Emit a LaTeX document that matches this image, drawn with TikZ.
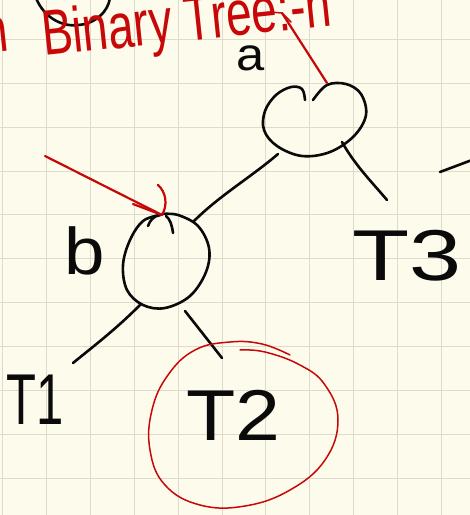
\documentclass[tikz,border=0pt]{standalone}
\usepackage{fontspec}
\setmainfont{Liberation Sans}
\definecolor{paper}{RGB}{253,251,236}
\definecolor{gridc}{RGB}{222,219,205}
\definecolor{ink}{RGB}{10,10,10}
\definecolor{redink}{RGB}{200,8,8}
\tikzset{
  pen/.style={draw=ink, line width=2.6pt, line cap=round, line join=round},
  redpen/.style={draw=redink, line width=2.2pt, line cap=round, line join=round},
  thinred/.style={draw=redink, line width=1.5pt, line cap=round, line join=round},
  lbl/.style={text=ink, inner sep=0pt, font=\fontsize{72}{72}\selectfont},
  redtxt/.style={text=redink, inner sep=0pt, anchor=base west, rotate=6, xscale=0.72, transform shape, font=\fontsize{64}{64}\selectfont},
  hidden/.style={draw=none, inner sep=0pt, minimum size=2pt}
}
\begin{document}
\begin{tikzpicture}[x=1pt, y=-1pt]
\useasboundingbox (0,0) rectangle (470,515);
\fill[paper] (0,0) rectangle (470,515);
\begin{scope}
\clip (0,0) rectangle (470,515);
% grid
\foreach \gx in {2,46,90,134,178,222,265,309,353,397,441}
  \draw[gridc, line width=1pt] (\gx,0) -- (\gx,515);
\foreach \gy in {39,83,127,171,214,258,302,346,390,434,478}
  \draw[gridc, line width=1pt] (0,\gy) -- (470,\gy);

% top partial circle
\draw[pen] (36,-2) .. controls (45,20) and (65,27) .. (78,25) .. controls (95,24) and (108,12) .. (110,-2);

% red title
\node[redtxt] (title0) at (-16,54) {n};
\node[redtxt] (title) at (44,56) {Binary Tree:-n};

% label a
\node[lbl, font=\fontsize{46}{46}\selectfont, anchor=base, xscale=1.1] (la) at (251,70) {a};

% node a outline
\node[hidden] (a) at (314,120) {};
\draw[pen] plot[smooth, tension=0.6] coordinates {(305,100) (302,89) (291,87) (276,95) (265,111) (264,130) (277,146) (302,156) (330,152) (354,136) (366,115) (361,94) (346,84) (327,85) (313,100)};

% red arrow from a to title
\coordinate (ra1) at (327,83);
\coordinate (ra2) at (282,13);
\draw[redpen] (ra1) -- (ra2);
\draw[thinred] (ra2) -- (270,12);
\draw[thinred] (ra2) -- (291,22);

% label b
\node[lbl, font=\fontsize{66}{66}\selectfont, anchor=base, xscale=1.1] (lb) at (85,274) {b};

% node b outline
\node[hidden] (b) at (166,262) {};
\draw[pen] plot[smooth, tension=0.6] coordinates {(160,215) (143,221) (130,240) (123,265) (127,290) (143,305) (165,308) (190,296) (206,272) (209,248) (198,226) (178,215) (162,214)};
\draw[pen] (148,226) .. controls (150,220) and (154,216) .. (160,215);
\draw[pen] (173,233) .. controls (172,225) and (170,219) .. (166,216);

% red arrow to b
\coordinate (rb1) at (45,156);
\coordinate (rb2) at (162,215);
\draw[redpen] (rb1) -- (rb2);
\draw[redpen] (rb2) -- (133,204);
\draw[redpen] (rb2) .. controls (168,205) and (166,192) .. (158,185);

% tree labels
\node[lbl, anchor=base west, xscale=1.3] (T3) at (352,280) {T3};
\node[lbl, anchor=base west, xscale=0.68] (T1) at (6,424) {T1};
\node[lbl, anchor=base west, xscale=1.12] (T2) at (186,440) {T2};

% connectors
\coordinate (a-bl) at (278,154);
\coordinate (b-tr) at (193,222);
\coordinate (a-br) at (342,142);
\coordinate (T3-top) at (387,200);
\coordinate (b-bl) at (140,305);
\coordinate (T1-top) at (73,363);
\coordinate (b-br) at (185,311);
\coordinate (T2-top) at (222,358);
\draw[pen] (a-bl) .. controls (250,178) and (220,195) .. (b-tr);
\draw[pen] (a-br) .. controls (355,165) and (370,180) .. (T3-top);
\draw[pen] (b-bl) .. controls (115,330) and (95,345) .. (T1-top);
\draw[pen] (b-br) -- (T2-top);

% far-right stroke
\coordinate (fr1) at (440,172);
\coordinate (fr2) at (472,160);
\draw[pen] (fr1) -- (fr2);

% red circle around T2
\draw[thinred] plot[smooth, tension=0.7] coordinates {(290,355) (262,344) (230,342) (195,350) (168,375) (152,410) (150,450) (165,485) (200,505) (245,506) (290,490) (325,460) (338,420) (325,385) (300,365) (265,352) (240,350)};
\end{scope}
\end{tikzpicture}
\end{document}
